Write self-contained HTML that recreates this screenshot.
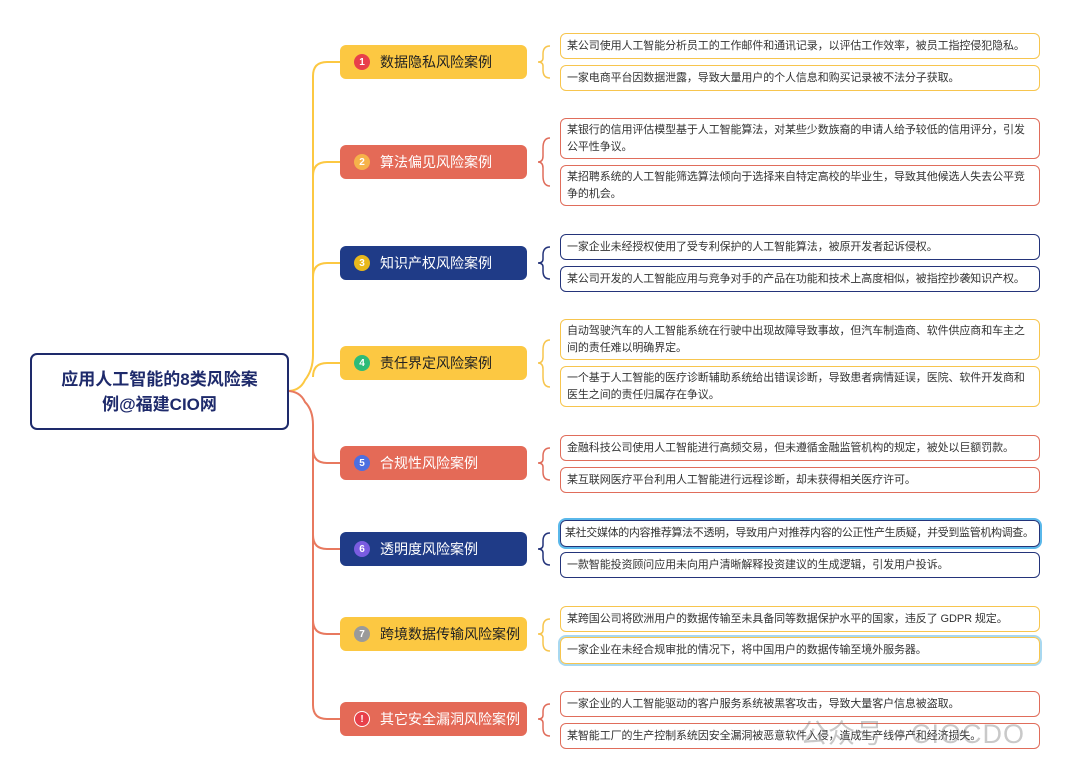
<!DOCTYPE html>
<html><head><meta charset="utf-8"><style>
body{margin:0;width:1080px;height:775px;background:#fff;position:relative;overflow:hidden;font-family:"Liberation Sans","Noto Sans CJK SC",sans-serif}
.root{position:absolute;left:30px;top:353px;width:255px;height:73px;border:2px solid #1e2a6b;border-radius:7px;color:#1e2a6b;font-weight:bold;font-size:17px;line-height:25px;text-align:center;display:flex;align-items:center;justify-content:center}
.cat{position:absolute;left:340px;width:187px;height:34px;border-radius:6px;font-size:14px;display:flex;align-items:center;box-sizing:border-box;padding-left:14px;white-space:nowrap}
.cat .n{width:16px;height:16px;border-radius:50%;color:#fff;font-size:10px;font-weight:bold;display:inline-flex;align-items:center;justify-content:center;margin-right:10px}
.y{background:#fcc842;color:#222}.r{background:#e46a57;color:#fff}.b{background:#1f3b87;color:#fff}
.leaf{position:absolute;left:560px;width:480px;box-sizing:border-box;border:1.5px solid;border-radius:6px;font-size:11px;color:#333;line-height:17px;padding:3px 6px;display:flex;align-items:center;letter-spacing:-0.1px}
.ly{border-color:#f7c54e}.lr{border-color:#e06d5b}.lb{border-color:#24347a}
</style></head><body>
<svg width="1080" height="775" style="position:absolute;left:0;top:0" fill="none" stroke-width="2">
<path d="M287 391 Q300 391 305 380 Q313 370 313 355 V76 Q313 62 327 62 H340" stroke="#fcc842"/>
<path d="M313 176 Q313 162 327 162 H340" stroke="#fcc842"/>
<path d="M313 277 Q313 263 327 263 H340" stroke="#fcc842"/>
<path d="M313 377 Q313 363 327 363 H340" stroke="#fcc842"/>
<path d="M287 391 Q300 391 305 402 Q313 410 313 425 V705 Q313 719 327 719 H340" stroke="#e8795f"/>
<path d="M313 449 Q313 463 327 463 H340" stroke="#e8795f"/>
<path d="M313 535 Q313 549 327 549 H340" stroke="#e8795f"/>
<path d="M313 620 Q313 634 327 634 H340" stroke="#e8795f"/>
<g stroke-width="1.5">
<path d="M550 46 Q543 46 543 54 V58 Q543 62 538 62 Q543 62 543 66 V70 Q543 78 550 78" stroke="#f7c54e"/>
<path d="M550 138 Q543 138 543 148 V156 Q543 162 538 162 Q543 162 543 168 V176 Q543 186 550 186" stroke="#e06d5b"/>
<path d="M550 247 Q543 247 543 255 V259 Q543 263 538 263 Q543 263 543 267 V271 Q543 279 550 279" stroke="#24347a"/>
<path d="M550 340 Q543 340 543 350 V357 Q543 363 538 363 Q543 363 543 369 V377 Q543 387 550 387" stroke="#f7c54e"/>
<path d="M550 448 Q543 448 543 456 V459 Q543 463 538 463 Q543 463 543 467 V472 Q543 480 550 480" stroke="#e06d5b"/>
<path d="M550 533 Q543 533 543 541 V545 Q543 549 538 549 Q543 549 543 553 V557 Q543 565 550 565" stroke="#24347a"/>
<path d="M550 619 Q543 619 543 627 V630 Q543 634 538 634 Q543 634 543 638 V643 Q543 651 550 651" stroke="#f7c54e"/>
<path d="M550 704 Q543 704 543 712 V715 Q543 719 538 719 Q543 719 543 723 V728 Q543 736 550 736" stroke="#e06d5b"/>
</g></svg>
<div class="root">应用人工智能的8类风险案<br>例@福建CIO网</div>
<div class="cat y" style="top:45px"><span class="n" style="background:#e8404a">1</span>数据隐私风险案例</div>
<div class="cat r" style="top:145px"><span class="n" style="background:#f6b24a">2</span>算法偏见风险案例</div>
<div class="cat b" style="top:246px"><span class="n" style="background:#e8b81c">3</span>知识产权风险案例</div>
<div class="cat y" style="top:346px"><span class="n" style="background:#2dbb78">4</span>责任界定风险案例</div>
<div class="cat r" style="top:446px"><span class="n" style="background:#4d6fe0">5</span>合规性风险案例</div>
<div class="cat b" style="top:532px"><span class="n" style="background:#7a5ce0">6</span>透明度风险案例</div>
<div class="cat y" style="top:617px"><span class="n" style="background:#9a9a9a">7</span>跨境数据传输风险案例</div>
<div class="cat r" style="top:702px"><span class="n" style="background:#e8404a;border:1.5px solid #fff;box-sizing:border-box">!</span>其它安全漏洞风险案例</div>

<div class="leaf ly" style="top:33px;height:26px">某公司使用人工智能分析员工的工作邮件和通讯记录，以评估工作效率，被员工指控侵犯隐私。</div>
<div class="leaf ly" style="top:65px;height:26px">一家电商平台因数据泄露，导致大量用户的个人信息和购买记录被不法分子获取。</div>
<div class="leaf lr" style="top:118px;height:41px">某银行的信用评估模型基于人工智能算法，对某些少数族裔的申请人给予较低的信用评分，引发公平性争议。</div>
<div class="leaf lr" style="top:165px;height:41px">某招聘系统的人工智能筛选算法倾向于选择来自特定高校的毕业生，导致其他候选人失去公平竞争的机会。</div>
<div class="leaf lb" style="top:234px;height:26px">一家企业未经授权使用了受专利保护的人工智能算法，被原开发者起诉侵权。</div>
<div class="leaf lb" style="top:266px;height:26px">某公司开发的人工智能应用与竞争对手的产品在功能和技术上高度相似，被指控抄袭知识产权。</div>
<div class="leaf ly" style="top:319px;height:41px">自动驾驶汽车的人工智能系统在行驶中出现故障导致事故，但汽车制造商、软件供应商和车主之间的责任难以明确界定。</div>
<div class="leaf ly" style="top:366px;height:41px">一个基于人工智能的医疗诊断辅助系统给出错误诊断，导致患者病情延误，医院、软件开发商和医生之间的责任归属存在争议。</div>
<div class="leaf lr" style="top:435px;height:26px">金融科技公司使用人工智能进行高频交易，但未遵循金融监管机构的规定，被处以巨额罚款。</div>
<div class="leaf lr" style="top:467px;height:26px">某互联网医疗平台利用人工智能进行远程诊断，却未获得相关医疗许可。</div>
<div class="leaf lb" style="top:520px;height:27px;box-shadow:0 0 0 2px #5ab8ea;white-space:nowrap;letter-spacing:-0.35px;padding:3px 4px">某社交媒体的内容推荐算法不透明，导致用户对推荐内容的公正性产生质疑，并受到监管机构调查。</div>
<div class="leaf lb" style="top:552px;height:26px">一款智能投资顾问应用未向用户清晰解释投资建议的生成逻辑，引发用户投诉。</div>
<div class="leaf ly" style="top:606px;height:26px">某跨国公司将欧洲用户的数据传输至未具备同等数据保护水平的国家，违反了 GDPR 规定。</div>
<div class="leaf ly" style="top:637px;height:27px;box-shadow:0 0 0 2px #a8d8f0">一家企业在未经合规审批的情况下，将中国用户的数据传输至境外服务器。</div>
<div class="leaf lr" style="top:691px;height:26px">一家企业的人工智能驱动的客户服务系统被黑客攻击，导致大量客户信息被盗取。</div>
<div class="leaf lr" style="top:723px;height:26px">某智能工厂的生产控制系统因安全漏洞被恶意软件入侵，造成生产线停产和经济损失。</div>
<div style="position:absolute;left:800px;top:712px;font-size:27px;color:rgba(120,120,120,0.4);letter-spacing:1px">公众号 · CIOCDO</div>
</body></html>
